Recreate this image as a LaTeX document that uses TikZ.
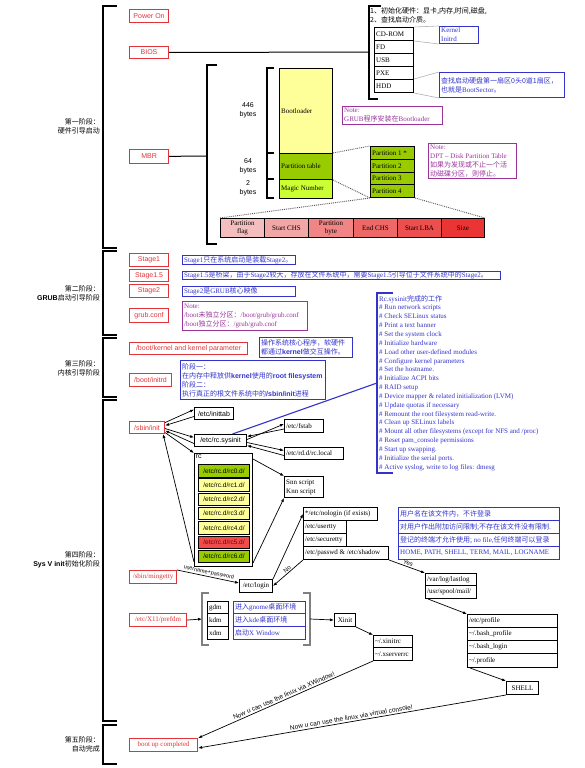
\documentclass[tikz,border=0pt]{standalone}
\usepackage{fontspec}
\setmainfont{Liberation Serif}
\setsansfont{Liberation Sans}
\newfontfamily\cjk{Noto Sans CJK SC}
\usetikzlibrary{arrows.meta}
\definecolor{bootred}{RGB}{226,52,56}
\definecolor{noteblue}{RGB}{51,51,204}
\definecolor{notepurple}{RGB}{153,51,153}
\definecolor{loaderyellow}{RGB}{255,255,153}
\definecolor{dptgreen}{RGB}{153,204,0}
\definecolor{magiclime}{RGB}{204,255,51}
\definecolor{rcred}{RGB}{240,76,76}
\definecolor{entryi}{RGB}{245,190,190}
\definecolor{entryii}{RGB}{243,166,166}
\definecolor{entryiii}{RGB}{241,132,132}
\definecolor{entryiv}{RGB}{239,104,104}
\definecolor{entryv}{RGB}{237,78,78}
\definecolor{entryvi}{RGB}{235,52,52}
\newcommand\boxfont{\fontsize{7}{9}\selectfont}
\newcommand\tinyfont{\fontsize{5.5}{6}\selectfont}
\newcommand\zh[1]{{\cjk #1}}
\newcommand\kw[1]{{\sffamily\bfseries #1}}
\begin{document}
\begin{tikzpicture}[x=1pt,y=-1pt,>={Latex[length=4pt,width=3pt]},
  boxat/.style n args={4}{anchor=north west,at={(#1,#2)},minimum width=#3pt-#1pt,minimum height=#4pt-#2pt},
  redbox/.style={draw=bootred,line width=1.1pt,inner sep=0pt,text=bootred,font=\boxfont\sffamily},
  redserif/.style={redbox,font=\boxfont\rmfamily},
  cell/.style={draw,line width=1pt,inner sep=0pt,align=center,font=\boxfont\rmfamily},
  sfcell/.style={cell,font=\boxfont\sffamily},
  rcd/.style={cell,font=\fontsize{6.5}{7}\selectfont\sffamily},
  bluenote/.style={draw=noteblue,line width=1pt,inner sep=0pt},
  purplenote/.style={draw=notepurple,line width=1pt,inner sep=0pt},
  ltext/.style={label={[anchor=west,align=left,inner sep=2pt,font=\boxfont]west:{#1}}},
  ntext/.style 2 args={label={[anchor=west,align=left,inner sep=2pt,font=\boxfont,text=#1]west:{#2}}},
  phase/.style={anchor=east,align=right,inner sep=0pt,font=\boxfont\cjk},
  bytes/.style={align=center,inner sep=0pt,font=\boxfont\sffamily},
  brk/.style={line width=1.1pt},
  link/.style={line width=1pt},
  flow/.style={->,line width=.7pt},
  guide/.style={gray!60,line width=.6pt},
  dots/.style={densely dotted,line width=.9pt,gray!70!black},
  tag/.style={sloped,above,inner sep=1pt,font=\tinyfont\sffamily},
  nowtag/.style={sloped,above,inner sep=1.5pt,font=\fontsize{6.5}{7}\selectfont\sffamily}]
\useasboundingbox (0,0) rectangle (584,768);

\draw[brk] (117,6) -- (103,6) -- (103,248) -- (117,248);
\draw[brk] (117,251) -- (103,251) -- (103,335) -- (117,335);
\draw[brk] (117,338) -- (103,338) -- (103,397) -- (117,397);
\draw[brk] (117,400) -- (103,400) -- (103,721) -- (117,721);
\draw[brk] (117,725) -- (103,725) -- (103,764) -- (117,764);
\node[phase] (phaseone) at (100,126) {第一阶段：\\硬件引导启动};
\node[phase] (phasetwo) at (100,293) {第二阶段：\\{\sffamily\bfseries GRUB}启动引导阶段};
\node[phase] (phasethree) at (100,368) {第三阶段：\\内核引导阶段};
\node[phase] (phasefour) at (100,560) {第四阶段：\\{\sffamily\bfseries Sys V init}初始化阶段};
\node[phase] (phasefive) at (100,744) {第五阶段：\\自动完成};

\node[redbox,boxat={129}{9}{168}{22}] (poweron) {Power On};
\node[redbox,boxat={129}{46}{168}{58}] (bios) {BIOS};
\node[redbox,boxat={129}{149}{168}{163}] (mbr) {MBR};

\coordinate (biosbrk) at (369,52);
\draw[brk] (381,6) -- (369,6) -- (369,99) -- (378,99);
\draw[link] (bios) -- (biosbrk);
\node[anchor=north west,align=left,inner sep=0pt,font=\boxfont\cjk] (hwinit) at (370,7) {1、初始化硬件：显卡,内存,时间,磁盘,\\2、查找启动介质。};
\node[cell,boxat={374}{27}{413}{40},ltext=CD-ROM] (cdrom) {};
\node[cell,boxat={374}{40}{413}{53},ltext=FD] (fd) {};
\node[cell,boxat={374}{53}{413}{66},ltext=USB] (usb) {};
\node[cell,boxat={374}{66}{413}{79},ltext=PXE] (pxe) {};
\node[cell,boxat={374}{79}{413}{92},ltext=HDD] (hdd) {};
\node[bluenote,boxat={439}{26}{478}{43},ntext={noteblue}{Kernel\\Initrd}] (kernelfiles) {};
\node[bluenote,boxat={439}{72}{564}{97},ntext={noteblue}{\zh{查找启动硬盘第一扇区0头0道1扇区，}\\\zh{也就是}BootSector\zh{。}}] (sectornote) {};
\draw[guide] (cdrom.north east) -- (kernelfiles.north west);
\draw[guide] (cdrom.south east) -- (kernelfiles.south west);
\draw[guide] (hdd.north east) -- (sectornote.north west);
\draw[guide] (hdd.south east) -- (sectornote.south west);

\coordinate (mbrbrk) at (207,156);
\draw[brk] (217,65) -- (207,65) -- (207,244) -- (217,244);
\draw[link] (mbr) -- (mbrbrk);
\draw[brk] (274,68) -- (267,68) -- (267,198) -- (274,198)
           (267,153) -- (274,153) (267,179) -- (274,179);
\node[bytes] (bytesloader) at (248,110) {446\\bytes};
\node[bytes] (bytestable) at (248,166) {64\\bytes};
\node[bytes] (bytesmagic) at (248,188) {2\\bytes};
\node[cell,fill=loaderyellow,boxat={279}{68}{332}{153},ltext=Bootloader] (bootloader) {};
\node[cell,fill=dptgreen,boxat={279}{153}{332}{179},ltext=Partition table] (ptable) {};
\node[cell,fill=magiclime,boxat={279}{179}{332}{198},ltext=Magic Number] (magic) {};
\node[purplenote,boxat={342}{106}{442}{124},ntext={notepurple}{Note:\\GRUB\zh{程序安装在}Bootloader}] (grubnote) {};
\node[cell,fill=dptgreen,boxat={370}{146}{414}{159},ltext=Partition 1 *] (parti) {};
\node[cell,fill=dptgreen,boxat={370}{159}{414}{172},ltext=Partition 2] (partii) {};
\node[cell,fill=dptgreen,boxat={370}{172}{414}{184},ltext=Partition 3] (partiii) {};
\node[cell,fill=dptgreen,boxat={370}{184}{414}{197},ltext=Partition 4] (partiv) {};
\node[purplenote,boxat={428}{143}{516}{178},ntext={notepurple}{Note:\\DPT -- Disk Partition Table\\\zh{如果为发现或不止一个活}\\\zh{动磁碟分区，则停止。}}] (dptnote) {};
\node[cell,fill=entryi,boxat={220}{218}{264}{237},font=\fontsize{7}{7.5}\selectfont] (pflag) {Partition\\flag};
\node[cell,fill=entryii,boxat={264}{218}{308}{237}] (startchs) {Start CHS};
\node[cell,fill=entryiii,boxat={308}{218}{353}{237},font=\fontsize{7}{7.5}\selectfont] (pbyte) {Partition\\byte};
\node[cell,fill=entryiv,boxat={353}{218}{397}{237}] (endchs) {End CHS};
\node[cell,fill=entryv,boxat={397}{218}{441}{237}] (startlba) {Start LBA};
\node[cell,fill=entryvi,boxat={441}{218}{484}{237}] (size) {Size};
\draw[dots] (ptable.north east) -- (parti.north west);
\draw[dots] (ptable.south east) -- (partiv.south west);
\draw[dots] (pflag.north west) -- (partiv.south west);
\draw[dots] (partiv.south east) -- (size.north east);

\node[redbox,boxat={129}{253}{168}{266}] (stageone) {Stage1};
\node[redbox,boxat={129}{269}{168}{281}] (stageonefive) {Stage1.5};
\node[redbox,boxat={129}{284}{168}{297}] (stagetwo) {Stage2};
\node[redbox,boxat={129}{308}{168}{322}] (grubconf) {grub.conf};
\node[bluenote,boxat={182}{255}{295}{264},ntext={noteblue}{Stage1\zh{只在系统启动是装载}Stage2\zh{。}}] (stageonenote) {};
\node[bluenote,boxat={182}{271}{500}{279},ntext={noteblue}{Stage1.5\zh{是桥梁，由于}Stage2\zh{较大，存放在文件系统中，需要}Stage1.5\zh{引导位于文件系统中的}Stage2\zh{。}}] (stageonefivenote) {};
\node[bluenote,boxat={182}{286}{295}{296},ntext={noteblue}{Stage2\zh{是}GRUB\zh{核心映像}}] (stagetwonote) {};
\node[purplenote,boxat={182}{301}{307}{330},ntext={notepurple}{Note:\\/boot\zh{未独立分区：}/boot/grub/grub.conf\\/boot\zh{独立分区：}/grub/grab.cnof}] (grubconfnote) {};

\node[redbox,boxat={129}{342}{247}{354}] (bootkernel) {/boot/kernel and kernel parameter};
\node[redbox,boxat={129}{373}{171}{386}] (bootinitrd) {/boot/initrd};
\node[bluenote,boxat={259}{337}{352}{357},ntext={noteblue}{\zh{操作系统核心程序，软硬件}\\\zh{都通过}\kw{kernel}\zh{做交互操作。}}] (kernelnote) {};
\node[bluenote,boxat={180}{360}{325}{399},ntext={noteblue}{\zh{阶段一：}\\\zh{在内存中释放供}\kw{kernel}\zh{使用的}\kw{root filesystem}\\\zh{阶段二：}\\\zh{执行真正的根文件系统中的}\kw{/sbin/init}\zh{进程}}] (initrdnote) {};

\node[redbox,boxat={129}{421}{164}{433}] (sbininit) {/sbin/init};
\node[sfcell,boxat={194}{407}{233}{419}] (inittab) {/etc/inittab};
\node[sfcell,boxat={194}{434}{246}{446}] (rcsysinit) {/etc/rc.sysinit};
\node[cell,boxat={194}{453}{252}{566},label={[anchor=north west,inner sep=1.5pt,font=\boxfont\sffamily]north west:rc}] (rc) {};
\node[rcd,fill=dptgreen,boxat={198}{464}{249}{476.5}] (rczero) {/etc/rc.d/rc0.d/};
\node[rcd,fill=loaderyellow,boxat={198}{478.3}{249}{490.8}] (rcone) {/etc/rc.d/rc1.d/};
\node[rcd,fill=loaderyellow,boxat={198}{492.6}{249}{505.1}] (rctwo) {/etc/rc.d/rc2.d/};
\node[rcd,fill=loaderyellow,boxat={198}{506.9}{249}{519.4}] (rcthree) {/etc/rc.d/rc3.d/};
\node[rcd,fill=loaderyellow,boxat={198}{521.2}{249}{533.7}] (rcfour) {/etc/rc.d/rc4.d/};
\node[rcd,fill=rcred,text=red!45!black,boxat={198}{535.5}{249}{548}] (rcfive) {/etc/rc.d/rc5.d/};
\node[rcd,fill=dptgreen,boxat={198}{549.8}{249}{562.3}] (rcsix) {/etc/rc.d/rc6.d/};
\node[cell,boxat={284}{419}{323}{432},ltext=/etc/fstab] (fstab) {};
\node[cell,boxat={284}{447}{343}{459},ltext=/etc/rd.d/rc.local] (rclocal) {};
\node[cell,boxat={284}{476}{323}{497},ltext={Snn script\\Knn script}] (snn) {};

\draw[noteblue,line width=1.1pt] (393,293) -- (377,293) -- (377,473) -- (393,473);
\node[anchor=north west,align=left,inner sep=0pt,text=noteblue,font=\fontsize{7}{8.84}\selectfont] (sysinitlist) at (379,295) {Rc.sysinit\zh{完成的工作}\\
\# Run network scripts\\
\# Check SELinux status\\
\# Print a text banner\\
\# Set the system clock\\
\# Initialize hardware\\
\# Load other user-defined modules\\
\# Configure kernel parameters\\
\# Set the hostname.\\
\# Initialize ACPI bits\\
\# RAID setup\\
\# Device mapper \& related initialization (LVM)\\
\# Update quotas if necessary\\
\# Remount the root filesystem read-write.\\
\# Clean up SELinux labels\\
\# Mount all other filesystems (except for NFS and /proc)\\
\# Reset pam\_console permissions\\
\# Start up swapping.\\
\# Initialize the serial ports.\\
\# Active syslog, write to log files: dmesg};
\coordinate (sysinitin) at (377,383);
\draw[noteblue,line width=1.1pt] ([xshift=12pt]rcsysinit.north) -- (sysinitin);

\draw[flow] ([yshift=5pt]sbininit.east) -- ([yshift=4pt]inittab.west);
\draw[flow] ([yshift=-3pt]inittab.west) -- ([yshift=2pt]sbininit.east);
\draw[flow] ([yshift=-1pt]sbininit.east) -- ([yshift=3pt]rcsysinit.west);
\draw[flow] ([yshift=-3pt]rcsysinit.west) -- ([yshift=-3pt]sbininit.east);
\draw[flow] ([yshift=-5pt]sbininit.east) -- (rc.north west);
\draw[flow] ([yshift=5pt]rc.south west) -- ([xshift=-2pt]sbininit.south east);
\draw[flow] ([yshift=1pt]rcsysinit.east) -- ([yshift=2pt]fstab.west);
\draw[flow] ([yshift=-3pt]fstab.west) -- ([yshift=4pt]rcsysinit.east);
\draw[flow] ([yshift=-2pt]rcsysinit.east) -- ([yshift=3pt]rclocal.west);
\draw[flow] ([yshift=-2pt]rclocal.west) -- ([yshift=-5pt]rcsysinit.east);
\draw[flow] ([yshift=-6pt]rc.north east) -- (snn.north west);
\draw[flow] ([yshift=4pt]rc.south east) -- (snn.south west);

\node[cell,boxat={303}{507}{377}{520},ltext=*/etc/nologin (if exists)] (nologin) {};
\node[cell,boxat={303}{520}{346}{533},ltext=/etc/usertty] (usertty) {};
\node[cell,boxat={303}{533}{346}{546},ltext=/etc/securetty] (securetty) {};
\node[cell,boxat={303}{546}{388}{559},ltext=/etc/passwd \& /etc/shadow] (passwd) {};
\node[bluenote,boxat={398}{507}{559}{520},ntext={noteblue}{\zh{用户名在该文件内，不许登录}}] (nologinnote) {};
\node[bluenote,boxat={398}{520}{559}{533},ntext={noteblue}{\zh{对用户作出附加访问限制;不存在该文件没有限制.}}] (userttynote) {};
\node[bluenote,boxat={398}{533}{559}{546},ntext={noteblue}{\zh{登记的终端才允许使用;} no file,\zh{任何终端可以登录}}] (securettynote) {};
\node[bluenote,boxat={398}{546}{559}{559},ntext={noteblue}{HOME, PATH, SHELL, TERM, MAIL, LOGNAME}] (passwdnote) {};

\node[redserif,boxat={129}{570}{176}{583}] (mingetty) {/sbin/mingetty};
\node[cell,boxat={239}{579}{272}{592}] (login) {/etc/login};
\draw[flow] (mingetty.north east) -- node[tag] {username+password} ([yshift=3pt]login.west);
\draw[flow] (login.north east) -- (nologin.west);
\draw[flow] (passwd.south west) -- node[tag,pos=.45,font=\fontsize{6}{6}\selectfont\sffamily] {No} (login.east);

\node[cell,boxat={425}{573}{476}{585},ltext=/var/log/lastlog] (lastlog) {};
\node[cell,boxat={425}{585}{476}{598},ltext=/usr/spool/mail/] (spoolmail) {};
\node[cell,boxat={467}{614}{557}{627},ltext=/etc/profile] (etcprofile) {};
\node[cell,boxat={467}{627}{557}{640},ltext=\textasciitilde/.bash\_profile] (bashprofile) {};
\node[cell,boxat={467}{640}{557}{653},ltext=\textasciitilde/.bash\_login] (bashlogin) {};
\node[cell,boxat={467}{653}{557}{667},ltext=\textasciitilde/.profile] (dotprofile) {};
\node[cell,boxat={506}{681}{538}{694}] (shell) {SHELL};
\draw[flow] (passwd.south east) -- node[tag,font=\fontsize{6}{6}\selectfont\sffamily] {Yes} (lastlog.north west);
\draw[flow] ([xshift=3pt]spoolmail.south west) -- (etcprofile.north west);
\draw[flow] ([xshift=3pt]dotprofile.south west) -- (shell.north west);

\node[redserif,boxat={129}{613}{186}{626}] (prefdm) {/etc/X11/prefdm};
\draw[brk,gray] (209,593) -- (202,593) -- (202,645) -- (209,645);
\draw[brk,gray] (303,593) -- (310,593) -- (310,645) -- (303,645);
\coordinate (dmin) at (202,619);
\coordinate (dmout) at (310,619);
\node[cell,boxat={207}{601}{228}{613},ltext=gdm] (gdm) {};
\node[cell,boxat={207}{613}{228}{626},ltext=kdm] (kdm) {};
\node[cell,boxat={207}{626}{228}{639},ltext=xdm] (xdm) {};
\node[bluenote,boxat={233}{601}{305}{613},ntext={noteblue}{\zh{进入}gnome\zh{桌面环境}}] (gdmnote) {};
\node[bluenote,boxat={233}{613}{305}{626},ntext={noteblue}{\zh{进入}kde\zh{桌面环境}}] (kdmnote) {};
\node[bluenote,boxat={233}{626}{305}{639},ntext={noteblue}{\zh{启动}X Window}] (xdmnote) {};
\node[cell,boxat={334}{613}{355}{626}] (xinit) {Xinit};
\node[cell,boxat={373}{635}{412}{647},ltext=\textasciitilde/.xinitrc] (xinitrc) {};
\node[cell,boxat={373}{647}{412}{660},ltext=\textasciitilde/.xserverrc] (xserverrc) {};
\draw[flow] (prefdm.east) -- (dmin);
\draw[flow] (dmout) -- (xinit.west);
\draw[flow] (xinit.south east) -- (xinitrc.north west);

\node[redserif,boxat={129}{738}{197}{751}] (bootup) {boot up completed};
\draw[flow] (xserverrc.south west) -- node[nowtag] {Now u can use the linux via XWindow!} (bootup.north east);
\draw[flow] (shell.south west) -- node[nowtag] {Now u can use the linux via virtual console!} ([yshift=-3pt]bootup.east);
\end{tikzpicture}
\end{document}
